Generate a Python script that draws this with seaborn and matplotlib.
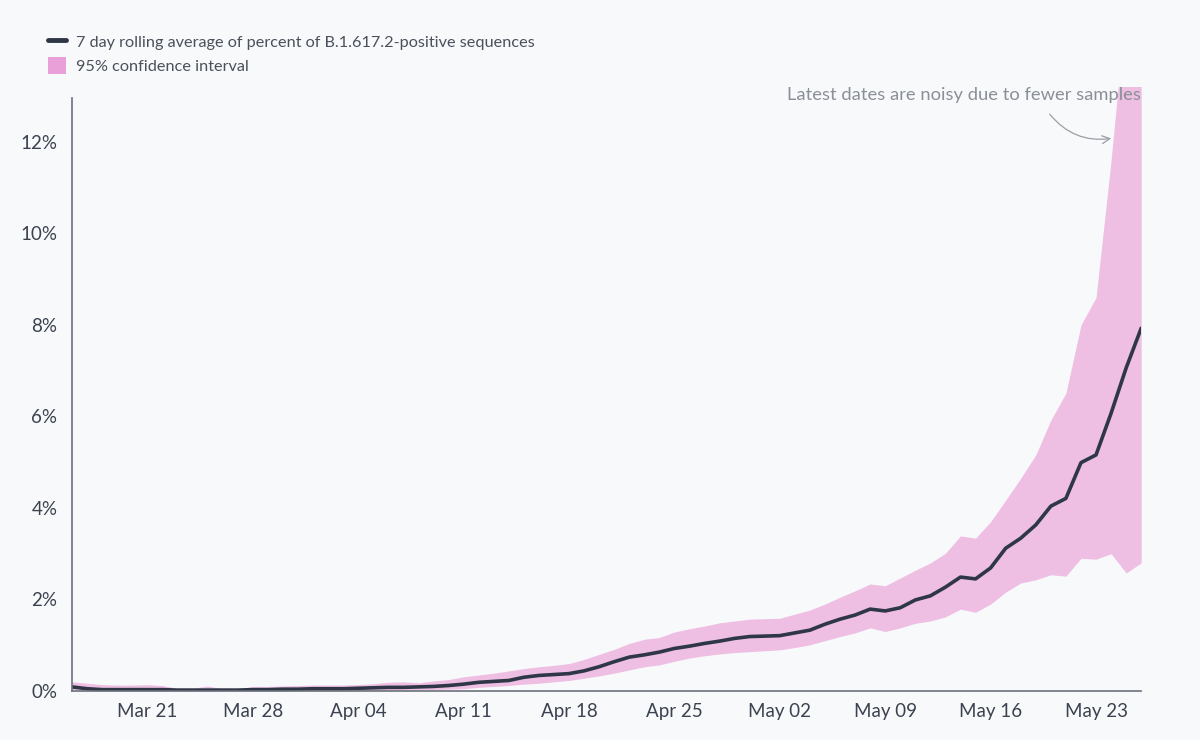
import pandas as pd
import numpy as np
import matplotlib
matplotlib.use("Agg")
import matplotlib.pyplot as plt
import matplotlib.dates as mdates
from matplotlib.lines import Line2D
from matplotlib.patches import Patch
from matplotlib.ticker import FuncFormatter
import seaborn as sns

# dados (percentual, media movel de 7 dias)
datas = pd.date_range("2021-03-16", "2021-05-26", freq="D")

media = [0.09, 0.05, 0.03, 0.03, 0.03, 0.03, 0.03, 0.02, 0.02, 0.02,
         0.02, 0.02, 0.03, 0.03, 0.04, 0.04, 0.05, 0.05, 0.05, 0.06,
         0.07, 0.08, 0.08, 0.09, 0.10, 0.12, 0.15, 0.19, 0.21, 0.23,
         0.30, 0.34, 0.36, 0.38, 0.44, 0.53, 0.64, 0.74, 0.79, 0.85,
         0.93, 0.98, 1.04, 1.09, 1.15, 1.19, 1.20, 1.21, 1.27, 1.33,
         1.46, 1.57, 1.66, 1.79, 1.75, 1.82, 1.99, 2.08, 2.27, 2.49,
         2.45, 2.69, 3.12, 3.34, 3.63, 4.04, 4.21, 4.99, 5.16, 6.07,
         7.06, 7.93]

superior = [0.20, 0.17, 0.14, 0.13, 0.13, 0.14, 0.12, 0.06, 0.06, 0.11,
            0.05, 0.05, 0.10, 0.10, 0.11, 0.12, 0.13, 0.13, 0.13, 0.14,
            0.16, 0.19, 0.20, 0.18, 0.22, 0.25, 0.31, 0.35, 0.39, 0.44,
            0.49, 0.53, 0.56, 0.60, 0.69, 0.80, 0.91, 1.04, 1.13, 1.17,
            1.29, 1.36, 1.42, 1.49, 1.53, 1.57, 1.58, 1.59, 1.68, 1.77,
            1.90, 2.05, 2.19, 2.34, 2.30, 2.47, 2.64, 2.80, 3.01, 3.39,
            3.34, 3.70, 4.17, 4.65, 5.16, 5.92, 6.51, 8.00, 8.60, 11.6,
            15.0, 16.0]

inferior = [0.03, 0.01, 0.00, 0.00, 0.00, 0.00, 0.00, 0.00, 0.00, 0.00,
            0.00, 0.00, 0.00, 0.00, 0.00, 0.01, 0.01, 0.01, 0.01, 0.01,
            0.01, 0.01, 0.02, 0.03, 0.03, 0.04, 0.05, 0.08, 0.10, 0.12,
            0.15, 0.17, 0.20, 0.23, 0.28, 0.33, 0.39, 0.46, 0.53, 0.57,
            0.65, 0.72, 0.77, 0.81, 0.84, 0.86, 0.88, 0.90, 0.95, 1.01,
            1.10, 1.19, 1.27, 1.38, 1.30, 1.38, 1.48, 1.53, 1.62, 1.79,
            1.72, 1.90, 2.16, 2.36, 2.43, 2.54, 2.51, 2.90, 2.88, 3.00,
            2.58, 2.80]

dados = pd.DataFrame({"data": datas, "media": media,
                      "superior": superior, "inferior": inferior})

# estilo
sns.set_style("white")
plt.rcParams["font.family"] = ["Lato", "DejaVu Sans"]

cor_fundo = "#f8f9fa"
cor_linha = "#2f3747"
cor_faixa = "#e9a0d8"
cor_eixo = "#6b717c"
cor_texto = "#3b4250"

fig = plt.figure(figsize=(12, 7.4), dpi=100, facecolor=cor_fundo)
ax = fig.add_axes([0.06, 0.0662, 0.891, 0.8162], facecolor=cor_fundo)

ax.fill_between(dados["data"], dados["inferior"], dados["superior"],
                color=cor_faixa, alpha=0.65, linewidth=0)
sns.lineplot(data=dados, x="data", y="media", color=cor_linha,
             linewidth=2.6, ax=ax, legend=False)

ax.set_xlim(datas[0], datas[-1])
ax.set_ylim(0, 13.2)
ax.set_xlabel("")
ax.set_ylabel("")

# eixos
for lado in ["top", "right"]:
    ax.spines[lado].set_visible(False)
ax.spines["left"].set_color(cor_eixo)
ax.spines["bottom"].set_color(cor_eixo)
ax.spines["left"].set_linewidth(1.2)
ax.spines["bottom"].set_linewidth(1.2)
ax.spines["left"].set_bounds(0, 12.95)

ax.set_yticks(range(0, 13, 2))
ax.yaxis.set_major_formatter(FuncFormatter(lambda v, p: f"{int(v)}%"))
ticks_x = pd.date_range("2021-03-21", "2021-05-23", freq="7D")
ax.set_xticks(ticks_x)
ax.xaxis.set_major_formatter(mdates.DateFormatter("%b %d"))
ax.set_xticks([datas[0], datas[-1]], minor=True)

ax.tick_params(axis="both", which="major", length=7, width=1.2,
               color=cor_eixo, labelcolor=cor_texto, labelsize=13.5)
ax.tick_params(axis="x", which="major", pad=1.5)
ax.tick_params(axis="x", which="minor", length=7, width=1.2, color=cor_eixo)
for t in ax.xaxis.get_minor_ticks():
    t.tick1line.set_clip_on(False)
ax.grid(False)

# anotacao
ax.annotate("Latest dates are noisy due to fewer samples",
            xy=(1141 / 1200, 1 - 95 / 740), xycoords="figure fraction",
            ha="right", va="center", fontsize=13.2, color="#8a8f98")
ax.annotate("", xy=(1114 / 1200, 1 - 138 / 740),
            xytext=(1048 / 1200, 1 - 112 / 740),
            xycoords="figure fraction", textcoords="figure fraction",
            arrowprops=dict(arrowstyle="->", color="#9a9ea6", lw=0.9,
                            connectionstyle="arc3,rad=0.3",
                            mutation_scale=14))

# legenda
itens = [Line2D([0], [0], color=cor_linha, linewidth=3.5),
         Patch(facecolor=cor_faixa, edgecolor="none")]
rotulos = ["7 day rolling average of percent of B.1.617.2-positive sequences",
           "95% confidence interval"]
fig.legend(itens, rotulos, loc="upper left", bbox_to_anchor=(0.028, 0.975),
           frameon=False, fontsize=11.7, labelcolor="#4a505c",
           handlelength=1.1, handleheight=1.3, handletextpad=0.6,
           labelspacing=0.35)

plt.savefig("out.png", dpi=100, facecolor=cor_fundo)
